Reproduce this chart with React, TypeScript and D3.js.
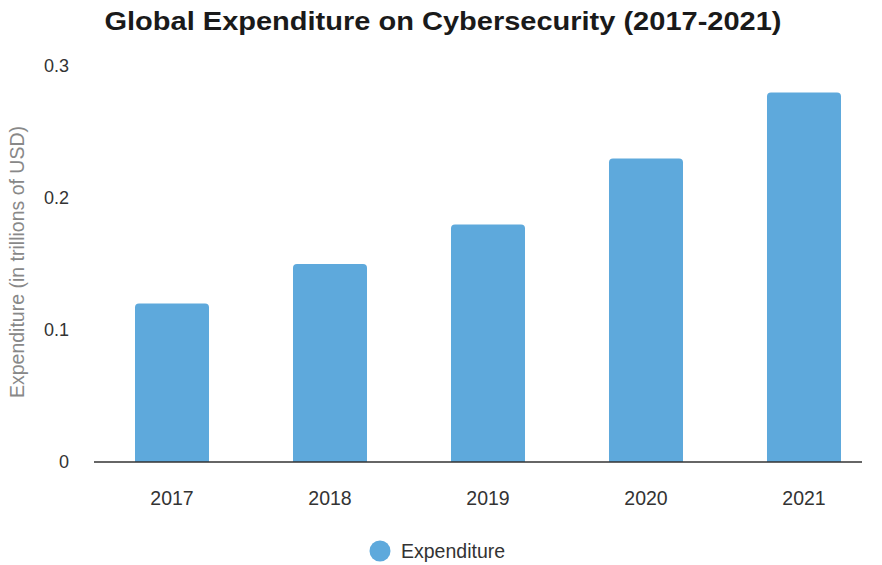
import React from "react";
import * as d3 from "d3";

const years = ["2017", "2018", "2019", "2020", "2021"];
const expenditure = [0.12, 0.15, 0.18, 0.23, 0.28];
const yTicks = [0, 0.1, 0.2, 0.3];
const yTickLabels = ["0", "0.1", "0.2", "0.3"];
const title = "Global Expenditure on Cybersecurity (2017-2021)";
const yAxisTitle = "Expenditure (in trillions of USD)";
const seriesName = "Expenditure";

const W = 882;
const H = 565;
const left = 94;
const right = 862;
const top = 66;
const bottom = 462;
const barColor = "#5ea9dc";
const font = "Liberation Sans, Arial, sans-serif";

export default function App() {
  const x = d3.scaleBand<string>().domain(years).range([left, 882]).paddingInner(0.5316).paddingOuter(0.2595);
  const y = d3.scaleLinear().domain([0, 0.3]).range([bottom, top]);
  const r = 4;
  const barPath = (xs: number, w: number, yt: number) => {
    return `M${xs},${bottom}V${yt + r}Q${xs},${yt} ${xs + r},${yt}H${xs + w - r}Q${xs + w},${yt} ${xs + w},${yt + r}V${bottom}Z`;
  };
  return (
    <svg width={W} height={H} style={{ position: "absolute", left: 0, top: 0, background: "#fff" }} fontFamily={font}>
      <text x={443} y={30} textAnchor="middle" fontSize={25} fontWeight="bold" fill="#1a1a1a" textLength={677} lengthAdjust="spacingAndGlyphs">
        {title}
      </text>
      {yTicks.map((t, i) => (
        <text key={t} x={69} y={y(t)} dy="0.35em" textAnchor="end" fontSize={18} fill="#333">
          {yTickLabels[i]}
        </text>
      ))}
      <text transform={`translate(24,262) rotate(-90)`} textAnchor="middle" fontSize={19.5} fill="#888">
        {yAxisTitle}
      </text>
      {years.map((yr, i) => (
        <path key={yr} d={barPath(x(yr)!, x.bandwidth(), y(expenditure[i]))} fill={barColor} />
      ))}
      <line x1={left} x2={right} y1={bottom} y2={bottom} stroke="#333" strokeWidth={1.5} />
      {years.map((yr) => (
        <text key={yr} x={x(yr)! + x.bandwidth() / 2} y={498} dy="0.35em" textAnchor="middle" fontSize={19.5} fill="#333">
          {yr}
        </text>
      ))}
      <circle cx={380} cy={551} r={10.5} fill={barColor} />
      <text x={401} y={551} dy="0.35em" fontSize={19.5} fill="#333">
        {seriesName}
      </text>
    </svg>
  );
}
